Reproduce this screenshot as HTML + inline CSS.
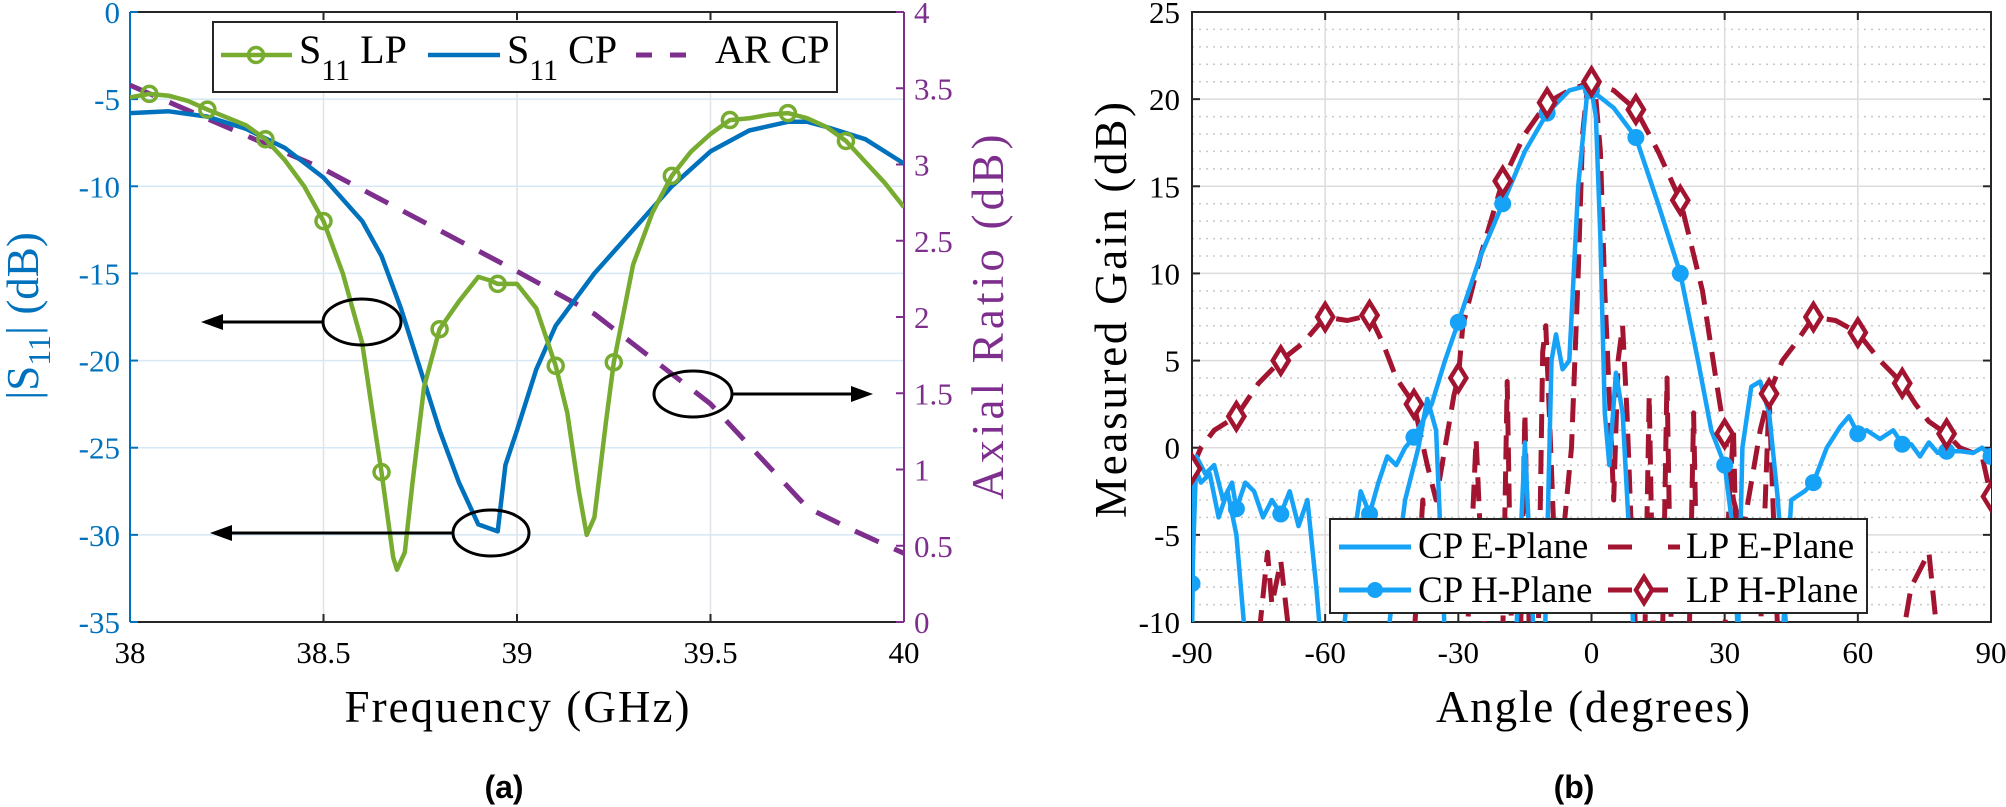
<!DOCTYPE html>
<html><head><meta charset="utf-8">
<style>
html,body{margin:0;padding:0;background:#fff;}
svg{display:block;}
</style></head>
<body>
<svg id="s" width="2006" height="807" xmlns="http://www.w3.org/2000/svg" font-family="'Liberation Serif', serif">
<defs>
<clipPath id="c1"><rect x="130" y="12" width="774" height="610"/></clipPath>
<clipPath id="c2"><rect x="1192" y="12" width="799" height="610"/></clipPath>
</defs>
<g id="g"></g>
</svg>
<script>
const NS="http://www.w3.org/2000/svg";
const G=document.getElementById('g');
function el(t,a,p){const e=document.createElementNS(NS,t);for(const k in a)e.setAttribute(k,a[k]);(p||G).appendChild(e);return e;}
function txt(s,a,p){if(!a['font-family'])a['font-family']='Liberation Serif, serif';const e=el('text',a,p);e.textContent=s;return e;}
// ---------- LEFT ----------
const L=130,R=904,T=12,B=622;
const X1=f=>L+(f-38)/2*774, Y1=d=>T+(-d)/35*610, YA=a=>B-a/4*610;
for(let f of [38.5,39,39.5]) el('line',{x1:X1(f),x2:X1(f),y1:T,y2:B,stroke:'#dde3e8','stroke-width':1.5});
for(let d=-5;d>-35;d-=5) el('line',{x1:L,x2:R,y1:Y1(d),y2:Y1(d),stroke:'#d6e8f5','stroke-width':1.5});
el('line',{x1:L,x2:R,y1:T,y2:T,stroke:'#262626','stroke-width':2});
el('line',{x1:L,x2:R,y1:B,y2:B,stroke:'#262626','stroke-width':2});
el('line',{x1:L,x2:L,y1:T,y2:B,stroke:'#0072BD','stroke-width':2});
el('line',{x1:R,x2:R,y1:T,y2:B,stroke:'#7E2F8E','stroke-width':2});
for(let f of [38.5,39,39.5]){el('line',{x1:X1(f),x2:X1(f),y1:T,y2:T+8,stroke:'#262626','stroke-width':2});el('line',{x1:X1(f),x2:X1(f),y1:B,y2:B-8,stroke:'#262626','stroke-width':2});}
for(let d=0;d>=-35;d-=5){el('line',{x1:L,x2:L+8,y1:Y1(d),y2:Y1(d),stroke:'#0072BD','stroke-width':2});
 txt(String(d),{x:120,y:Y1(d)+11,'text-anchor':'end','font-size':31,fill:'#0072BD'});}
for(let a=0;a<=4;a+=0.5){el('line',{x1:R-8,x2:R,y1:YA(a),y2:YA(a),stroke:'#7E2F8E','stroke-width':2});
 txt(String(a),{x:914,y:YA(a)+11,'font-size':31,fill:'#7E2F8E'});}
for(let f of [38,38.5,39,39.5,40]) txt(String(f),{x:X1(f),y:663,'text-anchor':'middle','font-size':31,fill:'#000'});
txt('Frequency (GHz)',{x:517,y:722,'text-anchor':'middle','font-size':45,fill:'#000',textLength:345});
const yl=txt('',{transform:'translate(38,316) rotate(-90)','text-anchor':'middle','font-size':45,fill:'#0072BD'});
yl.innerHTML='|S<tspan font-size="32" dy="12">11</tspan><tspan dy="-12">| (dB)</tspan>';
txt('Axial Ratio (dB)',{transform:'translate(1003,317) rotate(-90)','text-anchor':'middle','font-size':45,fill:'#7E2F8E',textLength:365});
const gl=el('g',{'clip-path':'url(#c1)'});
function pl(pts,X,Y,attrs,p){return el('polyline',Object.assign({points:pts.map(q=>X(q[0]).toFixed(1)+','+Y(q[1]).toFixed(1)).join(' '),fill:'none','stroke-linejoin':'round','stroke-linecap':'butt'},attrs),p);}
const AR=[[38,3.52],[38.5,2.97],[39,2.3],[39.2,2.02],[39.5,1.43],[39.75,0.75],[39.87,0.6],[40,0.45]];
pl(AR,X1,YA,{stroke:'#7E2F8E','stroke-width':5,'stroke-dasharray':'26 17'},gl);
const CP=[[38,-5.8],[38.1,-5.7],[38.2,-6],[38.3,-6.7],[38.4,-7.8],[38.5,-9.5],[38.6,-12],[38.65,-14],[38.7,-17],[38.75,-20.5],[38.8,-24],[38.85,-27],[38.9,-29.4],[38.95,-29.8],[38.97,-26],[39.0,-24],[39.05,-20.5],[39.1,-18],[39.2,-15],[39.3,-12.5],[39.4,-10],[39.5,-8],[39.6,-6.8],[39.7,-6.3],[39.75,-6.3],[39.8,-6.6],[39.9,-7.3],[40,-8.7]];
pl(CP,X1,Y1,{stroke:'#0072BD','stroke-width':4.5},gl);
const LP=[[38,-4.9],[38.05,-4.7],[38.1,-4.8],[38.15,-5.1],[38.2,-5.6],[38.3,-6.5],[38.35,-7.3],[38.4,-8.5],[38.45,-10],[38.5,-12],[38.55,-15],[38.6,-19],[38.63,-23.5],[38.65,-26.4],[38.68,-31.3],[38.69,-32],[38.71,-31],[38.73,-27],[38.76,-21.5],[38.8,-18.2],[38.85,-16.6],[38.9,-15.2],[38.93,-15.4],[38.95,-15.6],[39.0,-15.6],[39.05,-17],[39.1,-20.3],[39.13,-23],[39.16,-27.5],[39.18,-30],[39.2,-29],[39.23,-23.5],[39.25,-20.1],[39.3,-14.5],[39.35,-11.5],[39.4,-9.4],[39.45,-8],[39.5,-7],[39.55,-6.2],[39.6,-6.1],[39.65,-5.9],[39.7,-5.8],[39.75,-6.1],[39.8,-6.6],[39.85,-7.4],[39.9,-8.6],[39.95,-9.8],[40,-11.2]];
pl(LP,X1,Y1,{stroke:'#77AC30','stroke-width':4.5},gl);
for(let f of [38.05,38.2,38.35,38.5,38.65,38.8,38.95,39.1,39.25,39.4,39.55,39.7,39.85]){
 let y=LP.find(q=>Math.abs(q[0]-f)<1e-6);
 el('circle',{cx:X1(f),cy:Y1(y[1]),r:7.5,fill:'none',stroke:'#77AC30','stroke-width':3.5},gl);}
function arrow(x1,x2,y){el('line',{x1:x1,x2:x2+(x2<x1?12:-12),y1:y,y2:y,stroke:'#000','stroke-width':3});
 const d=x2<x1?1:-1; el('polygon',{points:`${x2},${y} ${x2+d*22},${y-8} ${x2+d*22},${y+8}`,fill:'#000'});}
el('ellipse',{cx:362,cy:322,rx:39,ry:23,fill:'none',stroke:'#000','stroke-width':3});arrow(323,201,322);
el('ellipse',{cx:491,cy:533,rx:38,ry:23,fill:'none',stroke:'#000','stroke-width':3});arrow(453,210,533);
el('ellipse',{cx:693,cy:394,rx:39,ry:23,fill:'none',stroke:'#000','stroke-width':3});arrow(732,873,394);
el('rect',{x:213,y:22,width:624,height:70,fill:'#fff',stroke:'#262626','stroke-width':2});
el('line',{x1:221,x2:292,y1:55,y2:55,stroke:'#77AC30','stroke-width':4.5});
el('circle',{cx:256,cy:55,r:7.5,fill:'none',stroke:'#77AC30','stroke-width':3.5});
let t1=txt('',{x:299,y:63,'font-size':40,fill:'#000'});t1.innerHTML='S<tspan font-size="30" dy="17">11</tspan><tspan dy="-17"> LP</tspan>';
el('line',{x1:428,x2:500,y1:55,y2:55,stroke:'#0072BD','stroke-width':4.5});
let t2=txt('',{x:507,y:63,'font-size':40,fill:'#000'});t2.innerHTML='S<tspan font-size="30" dy="17">11</tspan><tspan dy="-17"> CP</tspan>';
el('line',{x1:636,x2:702,y1:55,y2:55,stroke:'#7E2F8E','stroke-width':5,'stroke-dasharray':'16 18'});
txt('AR CP',{x:715,y:63,'font-size':40,fill:'#000'});
txt('(a)',{x:504,y:798,'text-anchor':'middle','font-size':32,'font-weight':'bold',fill:'#000','font-family':'Liberation Sans, sans-serif'});
// ---------- RIGHT ----------
const L2=1192,R2=1991;
const X2=a=>L2+(a+90)/180*799, Y2=g=>T+(25-g)/35*610;
for(let g=-9;g<25;g++){ if(g%5==0) continue; el('line',{x1:L2,x2:R2,y1:Y2(g),y2:Y2(g),stroke:'#c8c8c8','stroke-width':1.5,'stroke-dasharray':'2 5'});}
for(let g=-5;g<25;g+=5) el('line',{x1:L2,x2:R2,y1:Y2(g),y2:Y2(g),stroke:'#dcdcdc','stroke-width':1.5});
for(let a=-60;a<90;a+=30) el('line',{x1:X2(a),x2:X2(a),y1:T,y2:B,stroke:'#dcdcdc','stroke-width':1.5});
el('rect',{x:L2,y:T,width:799,height:610,fill:'none',stroke:'#262626','stroke-width':2});
for(let a=-60;a<90;a+=30){el('line',{x1:X2(a),x2:X2(a),y1:T,y2:T+8,stroke:'#262626','stroke-width':2});el('line',{x1:X2(a),x2:X2(a),y1:B,y2:B-8,stroke:'#262626','stroke-width':2});}
for(let g=-10;g<=25;g+=5){el('line',{x1:L2,x2:L2+8,y1:Y2(g),y2:Y2(g),stroke:'#262626','stroke-width':2});el('line',{x1:R2-8,x2:R2,y1:Y2(g),y2:Y2(g),stroke:'#262626','stroke-width':2});
 txt(String(g),{x:1180,y:Y2(g)+11,'text-anchor':'end','font-size':31,fill:'#000'});}
for(let a=-90;a<=90;a+=30) txt(String(a),{x:X2(a),y:663,'text-anchor':'middle','font-size':31,fill:'#000'});
txt('Angle (degrees)',{x:1593,y:722,'text-anchor':'middle','font-size':45,fill:'#000',textLength:314});
txt('Measured Gain (dB)',{transform:'translate(1126,310) rotate(-90)','text-anchor':'middle','font-size':45,fill:'#000',textLength:416});
const g2=el('g',{'clip-path':'url(#c2)'});
const BL='#16A2F7',RD='#A2142F';
const LPE=[[-90,-11],[-75,-11],[-73,-6],[-72,-9],[-70,-6.5],[-68,-11],[-40,-11],[-38,-3],[-36,-11],[-28,-11],[-26,0.5],[-24,-11],[-20,-11],[-19,3.8],[-18,-11],[-16,-11],[-15,2],[-14,-11],[-12,-11],[-11,5.5],[-10.3,7],[-9.5,2],[-8,-8],[-6,-4],[-4.5,0],[-3,10],[-2,18],[-1,20.5],[0,21],[1,20],[2,17],[3,9],[4,3],[5,-3],[6,5],[7,7],[8,2],[9,-5],[10,-11],[12,-11],[13,3],[14,-11],[16,-11],[17,4],[18,-11],[22,-11],[23,2],[24,-11],[30,-11],[31,-3],[32,1],[33,-11],[38,-11],[40,3],[42,-11],[70,-11],[72,-8],[76,-6],[78,-11],[90,-11]];
pl(LPE,X2,Y2,{stroke:RD,'stroke-width':5,'stroke-dasharray':'24 12'},g2);
const LPH=[[-90,-1.2],[-88,0],[-85,1],[-80,1.8],[-75,3.7],[-70,5],[-65,6],[-60,7.5],[-55,7.3],[-50,7.6],[-47,6],[-44,4],[-40,2.5],[-37,-1],[-35,-3],[-33,0],[-31,3],[-30,4],[-29,7],[-25,11],[-20,15.3],[-15,18],[-10,19.8],[-5,20.5],[0,21],[5,20.5],[10,19.4],[15,17],[20,14.2],[25,9],[28,4],[30,0.8],[32,-3],[34,-5],[36,-2],[38,1],[40,3.1],[43,5],[46,6],[50,7.5],[55,7.3],[60,6.6],[65,5],[70,3.7],[73,2.5],[76,1.5],[80,0.8],[83,0],[86,-0.3],[88,-0.5],[90,-2.8]];
pl(LPH,X2,Y2,{stroke:RD,'stroke-width':5,'stroke-dasharray':'24 12'},g2);
const CPE=[[-90,-11],[-89.5,-1],[-88,-2],[-86,-1.5],[-84,-4],[-82,-2.5],[-80,-5],[-78,-11],[-46,-11],[-42,-3],[-39,0],[-37,2.8],[-35,1],[-33,-11],[-17,-11],[-15,0.3],[-13,-11],[-10.5,-11],[-9,5],[-8,6.5],[-6.5,4.5],[-5,5],[-3,15],[-1,20.3],[0,20.5],[1,19],[2,12],[3,2],[4,-1],[5.5,4.3],[7,2],[8.5,-5],[9.5,-11],[33,-11],[34,0],[36,3.5],[38,3.8],[40,2],[42,-3],[44,-11],[90,-11]];
pl(CPE,X2,Y2,{stroke:BL,'stroke-width':4.5},g2);
const CPH=[[-90,-7.8],[-89,-0.5],[-87,-1.5],[-85,-1],[-83,-3],[-81,-2],[-80,-3.5],[-78,-2],[-76,-2.5],[-74,-4],[-72,-3],[-70,-3.8],[-68,-2.5],[-66,-4.5],[-64,-3],[-62,-8],[-61,-11],[-56,-11],[-54,-6],[-52,-2.5],[-50,-3.8],[-48,-2],[-46,-0.5],[-44,-1],[-42,0],[-40,0.6],[-36,2.5],[-33,5],[-30,7.2],[-25,11],[-20,14],[-15,17],[-10,19.2],[-5,20.5],[-2,20.7],[0,20.5],[5,19.5],[10,17.8],[15,14],[20,10],[24,5],[27,1],[30,-1],[32,-5],[33,-11],[43,-11],[45,-3],[48,-2.5],[50,-2],[53,0],[56,1.2],[58,1.8],[60,0.8],[62,1],[65,0.5],[68,1],[70,0.2],[72,0.2],[74,-0.5],[76,0.3],[78,-0.3],[80,-0.2],[83,-0.2],[86,-0.3],[88,0],[90,-0.5]];
pl(CPH,X2,Y2,{stroke:BL,'stroke-width':4.5},g2);
function at(arr,a){for(let i=0;i<arr.length-1;i++){if(arr[i][0]<=a&&arr[i+1][0]>=a){const t=(a-arr[i][0])/(arr[i+1][0]-arr[i][0]||1);return arr[i][1]+t*(arr[i+1][1]-arr[i][1]);}}return arr[arr.length-1][1];}
for(let a=-90;a<=90;a+=10){
 el('circle',{cx:X2(a),cy:Y2(at(CPH,a)),r:7.5,fill:BL,stroke:BL,'stroke-width':2},g2);
 const x=X2(a),y=Y2(at(LPH,a));
 el('polygon',{points:`${x},${y-13} ${x+8},${y} ${x},${y+13} ${x-8},${y}`,fill:'#fff',stroke:RD,'stroke-width':4.5},g2);}
el('rect',{x:1330,y:519,width:537,height:94,fill:'#fff',stroke:'#262626','stroke-width':2});
el('line',{x1:1339,x2:1411,y1:547,y2:547,stroke:BL,'stroke-width':5});
txt('CP E-Plane',{x:1418,y:558,'font-size':37,fill:'#000'});
el('line',{x1:1339,x2:1411,y1:590,y2:590,stroke:BL,'stroke-width':5});
el('circle',{cx:1375,cy:590,r:8,fill:BL});
txt('CP H-Plane',{x:1418,y:602,'font-size':37,fill:'#000'});
el('line',{x1:1608,x2:1680,y1:547,y2:547,stroke:RD,'stroke-width':5,'stroke-dasharray':'24 36'});
txt('LP E-Plane',{x:1686,y:558,'font-size':37,fill:'#000'});
el('line',{x1:1608,x2:1680,y1:590,y2:590,stroke:RD,'stroke-width':5,'stroke-dasharray':'24 12'});
el('polygon',{points:'1644,577 1652,590 1644,603 1636,590',fill:'#fff',stroke:RD,'stroke-width':4.5});
txt('LP H-Plane',{x:1686,y:602,'font-size':37,fill:'#000'});
txt('(b)',{x:1574,y:798,'text-anchor':'middle','font-size':32,'font-weight':'bold',fill:'#000','font-family':'Liberation Sans, sans-serif'});
</script>
</body></html>
